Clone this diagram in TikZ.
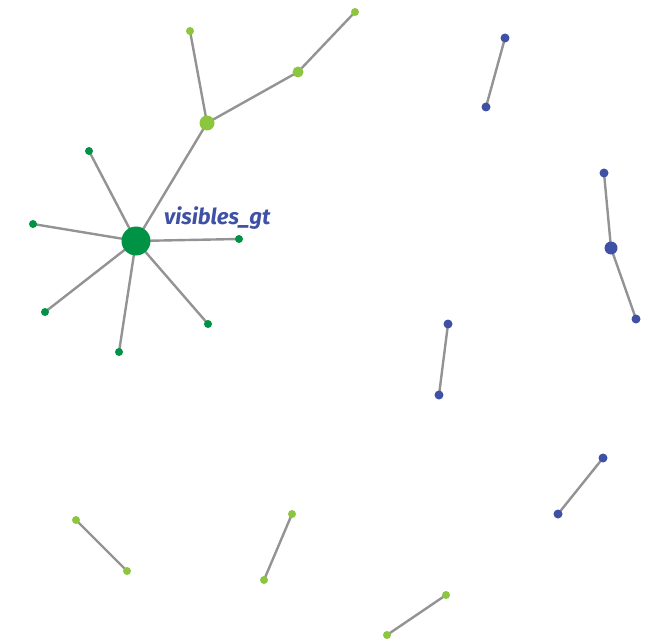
\documentclass[tikz,border=0pt]{standalone}
\usepackage{fontspec}
\newfontfamily\etiqueta{Fira Sans}
\usetikzlibrary{positioning}
\definecolor{verdeosc}{RGB}{0,146,69}
\definecolor{verdecl}{RGB}{140,198,63}
\definecolor{azul}{RGB}{63,81,165}
\definecolor{arista}{RGB}{147,147,147}

\begin{document}
\begin{tikzpicture}[x=1pt,y=-1pt,
  punto/.style={circle, inner sep=0pt, minimum size=8pt},
  medio/.style={punto, minimum size=11pt},
  grande/.style={punto, minimum size=15pt},
  enorme/.style={punto, minimum size=29pt},
  lazo/.style={draw=arista, line width=2.4pt}]
\useasboundingbox (0,0) rectangle (658,639);

% aristas
\path[lazo]
  (136,241) edge (89,151) edge (33,224) edge (239,239) edge (45,312)
            edge (119,352) edge (208,324) edge (207,123)
  (207,123) edge (190,31) edge (298,72)
  (298,72) edge (355,12)
  (505,38) edge (486,107)
  (604,173) edge (611,248)
  (611,248) edge (636,319)
  (448,324) edge (439,395)
  (603,458) edge (558,514)
  (76,520) edge (127,571)
  (292,514) edge (264,580)
  (446,595) edge (387,635);

% nodos verde oscuro
\node [enorme, fill=verdeosc] (vgt) at (136,241) {};
\foreach \x/\y [count=\i] in {89/151, 33/224, 239/239, 45/312, 119/352, 208/324}
  \node [punto, fill=verdeosc] (v\i) at (\x,\y) {};

% nodos verde claro
\node [grande, fill=verdecl] (c0) at (207,123) {};
\node [medio, fill=verdecl] (c1) at (298,72) {};
\foreach \x/\y [count=\i from 2] in {190/31, 355/12, 76/520, 127/571, 292/514, 264/580, 446/595, 387/635}
  \node [punto, fill=verdecl] (c\i) at (\x,\y) {};

% nodos azules
\node [grande, fill=azul, minimum size=13pt] (a0) at (611,248) {};
\foreach \x/\y [count=\i] in {505/38, 486/107, 604/173, 636/319, 448/324, 439/395, 603/458, 558/514}
  \node [punto, fill=azul, minimum size=9pt] (a\i) at (\x,\y) {};

% etiqueta
\node [anchor=base west, inner sep=0pt, text=azul, font=\etiqueta\bfseries\itshape\fontsize{22}{25}\selectfont] (lbl) at (164,224) {visibles\_gt};
\end{tikzpicture}
\end{document}
